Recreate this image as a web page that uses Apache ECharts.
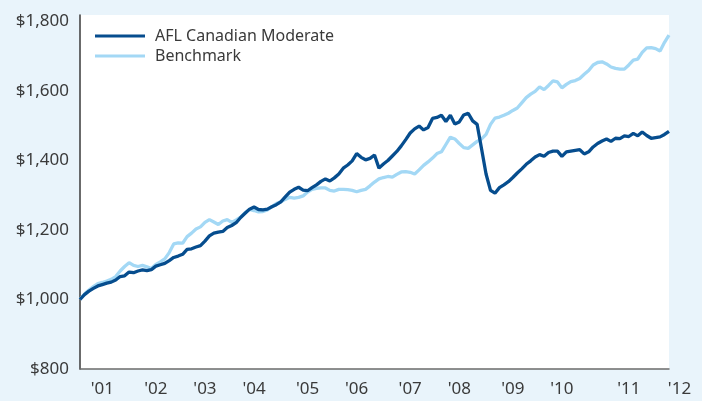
<!DOCTYPE html>
<html>

<head lang="en">
  <meta charset="UTF-8">
  <title>AFL Canadian Moderate vs Benchmark</title>
  <script src="https://cdn.jsdelivr.net/npm/echarts@6/dist/echarts.min.js"></script>
  <style>
  html, body {
    margin: 0;
    padding: 0;
    background: #e9f4fb;
  }
  #section {
    width: 702px;
    height: 401px;
  }
  </style>
</head>

<body>
  <div id="section"></div>
</body>
<script>
// monthly growth of $1,000, Dec 2000 .. Dec 2011
var afl = [
  1000, 1014, 1024, 1032, 1039, 1043, 1047, 1050, 1056, 1066, 1068, 1079,
  1077, 1082, 1085, 1083, 1086, 1096, 1100, 1104, 1112, 1121, 1125, 1130,
  1144, 1146, 1151, 1155, 1168, 1183, 1191, 1194, 1196, 1207, 1213, 1221,
  1236, 1248, 1260, 1266, 1259, 1258, 1260, 1267, 1273, 1281, 1295, 1309,
  1317, 1323, 1315, 1313, 1322, 1330, 1340, 1347, 1341, 1350, 1361, 1378,
  1387, 1399, 1420, 1409, 1402, 1406, 1416, 1378, 1390, 1400, 1413, 1426,
  1442, 1460, 1479, 1491, 1499, 1488, 1495, 1521, 1524, 1530, 1512, 1530,
  1505, 1511, 1531, 1536, 1514, 1504, 1433, 1361, 1314, 1306, 1322, 1330,
  1339, 1351, 1364, 1376, 1389, 1399, 1410, 1417, 1412, 1423, 1427, 1427,
  1412, 1425, 1427, 1429, 1431, 1419, 1425, 1439, 1449, 1456, 1462, 1455,
  1464, 1463, 1471, 1469, 1478, 1471, 1482, 1472, 1464, 1466, 1468, 1475,
  1484
];

var benchmark = [
  1000, 1016, 1027, 1037, 1046, 1049, 1053, 1058, 1066, 1082, 1095, 1106,
  1098, 1095, 1098, 1094, 1089, 1101, 1108, 1117, 1135, 1160, 1163, 1162,
  1181, 1191, 1203, 1209, 1222, 1230, 1223, 1216, 1226, 1230, 1222, 1229,
  1237, 1250, 1259, 1256, 1252, 1253, 1258, 1267, 1276, 1281, 1288, 1294,
  1292, 1294, 1298, 1309, 1317, 1320, 1321, 1321, 1314, 1312, 1317, 1317,
  1316, 1314, 1310, 1314, 1317, 1327, 1338, 1347, 1351, 1354, 1352, 1360,
  1367, 1368, 1366, 1361, 1373, 1386, 1396, 1407, 1420, 1425, 1446, 1467,
  1462, 1449, 1437, 1435, 1445, 1455, 1462, 1475, 1504, 1522, 1525, 1530,
  1536, 1544, 1551, 1566, 1581, 1591, 1599, 1612, 1604, 1616, 1629, 1626,
  1609, 1619, 1627, 1630, 1636, 1648, 1659, 1675, 1682, 1684, 1678, 1669,
  1665, 1663, 1663, 1675, 1689, 1692, 1711, 1724, 1725, 1722, 1715, 1740,
  1761
];

// year labels and the month index they sit under
var tickLabels = ["'01", "'02", "'03", "'04", "'05", "'06", "'07", "'08", "'09", "'10", "'11", "'12"];
var tickIndex = [5, 17, 28, 39, 51, 62, 74, 85, 97, 108, 123, 132];

var months = [];
for (var i = 0; i < afl.length; i++) {
  var m = (11 + i) % 12 + 1;
  var y = 2000 + Math.floor((11 + i) / 12);
  months.push(y + '-' + (m < 10 ? '0' + m : m));
}

var labelAt = {};
tickIndex.forEach(function(idx, k) {
  labelAt[idx] = tickLabels[k];
});

var myCharts = echarts.init(document.getElementById("section"));

var fontFamily = '"Noto Sans", "Open Sans", sans-serif';

option = {
  backgroundColor: '#e9f4fb',
  animation: false,
  textStyle: {
    fontFamily: fontFamily
  },
  grid: {
    show: true,
    left: 80,
    right: 33,
    top: 15,
    bottom: 32,
    backgroundColor: '#ffffff',
    borderWidth: 0
  },
  legend: {
    orient: 'vertical',
    left: 95,
    top: 26,
    padding: 0,
    icon: 'rect',
    itemWidth: 50,
    itemHeight: 3,
    itemGap: 0,
    data: ['AFL Canadian Moderate', 'Benchmark'],
    textStyle: {
      fontSize: 16,
      lineHeight: 20,
      color: '#3a3a3a',
      padding: [0, 0, 0, 5]
    }
  },
  xAxis: {
    type: 'category',
    boundaryGap: false,
    data: months,
    axisLine: {
      lineStyle: {
        color: '#6b6b6b',
        width: 1.5
      }
    },
    axisTick: {
      show: false
    },
    axisLabel: {
      interval: function(index) {
        return labelAt[index] !== undefined;
      },
      formatter: function(value, index) {
        var t = labelAt[index];
        if (t === undefined) return '';
        if (index === afl.length - 1) return '{last|' + t + '}';
        return t;
      },
      rich: {
        last: {
          fontSize: 17,
          color: '#3a3a3a',
          padding: [0, 0, 0, 21]
        }
      },
      fontSize: 17,
      color: '#3a3a3a',
      margin: 12
    },
    splitLine: {
      show: false
    }
  },
  yAxis: {
    type: 'value',
    min: 800,
    max: 1818.7,
    interval: 200,
    axisLine: {
      show: true,
      lineStyle: {
        color: '#3a3a3a',
        width: 1.5
      }
    },
    axisTick: {
      show: false
    },
    splitLine: {
      show: false
    },
    axisLabel: {
      fontSize: 17,
      color: '#3a3a3a',
      margin: 11,
      formatter: function(v) {
        if (v % 200 !== 0) return '';
        return '$' + v.toLocaleString('en-US');
      }
    }
  },
  series: [{
    name: 'Benchmark',
    type: 'line',
    symbol: 'none',
    data: benchmark,
    itemStyle: {
      color: '#a3d8f5'
    },
    lineStyle: {
      color: '#a3d8f5',
      width: 3.3
    }
  }, {
    name: 'AFL Canadian Moderate',
    type: 'line',
    symbol: 'none',
    data: afl,
    itemStyle: {
      color: '#064d8e'
    },
    lineStyle: {
      color: '#064d8e',
      width: 3.3
    }
  }]
};

myCharts.setOption(option);
</script>

</html>
